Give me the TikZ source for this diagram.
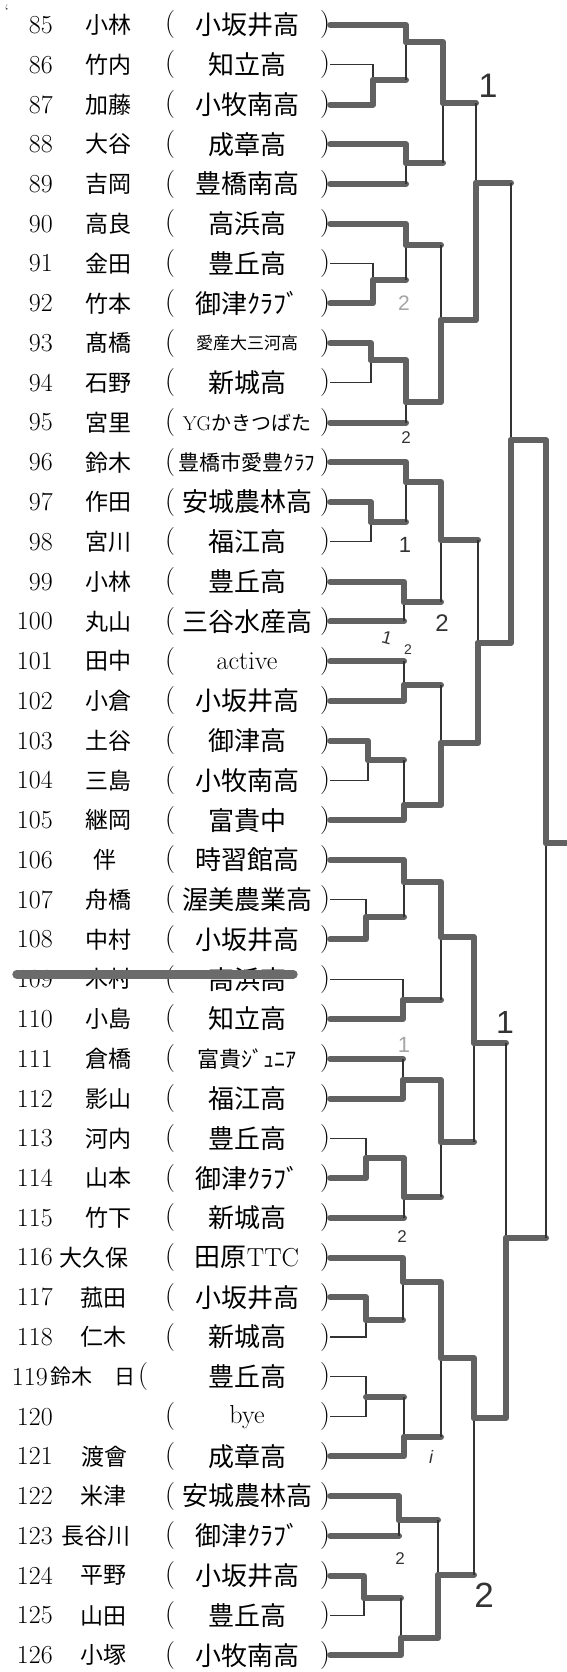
\documentclass[tikz,border=0pt]{standalone}
\usepackage{fontspec}
\usepackage{tikz}
\newfontfamily\jp{Noto Sans CJK JP}
\newfontfamily\hand{Liberation Sans}
\tikzstyle{idx}=[anchor=east,inner sep=0pt,font=\fontsize{26}{26}\selectfont]
\tikzstyle{nm}=[inner sep=0pt,font=\jp\fontsize{23}{23}\selectfont]
\tikzstyle{pr}=[inner sep=0pt,font=\fontsize{28}{28}\selectfont]
\tikzstyle{sch}=[inner sep=0pt,font=\jp\fontsize{26}{26}\selectfont]
\tikzstyle{win}=[line width=6pt,black!62,line cap=round,line join=round]
\tikzstyle{lose}=[line width=1.2pt,black!80]
\tikzstyle{strikeout}=[line width=9pt,black!58,line cap=round]
\tikzstyle{hw}=[inner sep=0pt,font=\hand\fontsize{20}{20}\selectfont,black!80]
% one row of the draw: number, name x, name, school
\newcommand{\entrow}[4]{%
  \node[idx] (num#1) at (53,{25+39.76*(#1-85)}) {#1};
  \node[nm] (nm#1) at (#2,{25+39.76*(#1-85)}) {#3};
  \node[pr] (lp#1) at (170,{25+39.76*(#1-85)}) {(};
  \node[sch] (sc#1) at (247,{25+39.76*(#1-85)}) {#4};
  \node[pr] (e#1) at (325,{25+39.76*(#1-85)}) {)};
}
\newcommand{\beat}[2]{\draw[win] (#1) -| (#2);}
\newcommand{\fell}[2]{\draw[win] (#1) -- (#1 -| #2); \draw[lose] (#1 -| #2) -- (#2);}

\begin{document}
\begin{tikzpicture}[x=1pt,y=-1pt]
        \fill[white] (0,0) rectangle (566,1672);
        \node[hw,font=\fontsize{20}{20}\selectfont] (tick) at (7,12) {`};

        \entrow{85}{108}{小林}{小坂井高}
        \entrow{86}{108}{竹内}{知立高}
        \entrow{87}{108}{加藤}{小牧南高}
        \entrow{88}{108}{大谷}{成章高}
        \entrow{89}{108}{吉岡}{豊橋南高}
        \entrow{90}{108}{高良}{高浜高}
        \entrow{91}{108}{金田}{豊丘高}
        \entrow{92}{108}{竹本}{御津ｸﾗﾌﾞ}
        \entrow{93}{108}{髙橋}{\fontsize{17}{17}\selectfont 愛産大三河高}
        \entrow{94}{108}{石野}{新城高}
        \entrow{95}{108}{宮里}{\fontsize{20}{20}\selectfont{\rmfamily YG}かきつばた}
        \entrow{96}{108}{鈴木}{\fontsize{21}{21}\selectfont 豊橋市愛豊ｸﾗﾌ}
        \entrow{97}{108}{作田}{安城農林高}
        \entrow{98}{108}{宮川}{福江高}
        \entrow{99}{108}{小林}{豊丘高}
        \entrow{100}{108}{丸山}{三谷水産高}
        \entrow{101}{108}{田中}{{\rmfamily active}}
        \entrow{102}{108}{小倉}{小坂井高}
        \entrow{103}{108}{土谷}{御津高}
        \entrow{104}{108}{三島}{小牧南高}
        \entrow{105}{108}{継岡}{富貴中}
        \entrow{106}{105}{伴}{時習館高}
        \entrow{107}{108}{舟橋}{渥美農業高}
        \entrow{108}{108}{中村}{小坂井高}
        \entrow{109}{108}{木村}{高浜高}
        \entrow{110}{108}{小島}{知立高}
        \entrow{111}{108}{倉橋}{\fontsize{22}{22}\selectfont 富貴ｼﾞｭﾆｱ}
        \entrow{112}{108}{影山}{福江高}
        \entrow{113}{108}{河内}{豊丘高}
        \entrow{114}{108}{山本}{御津ｸﾗﾌﾞ}
        \entrow{115}{108}{竹下}{新城高}
        \entrow{116}{94}{大久保}{田原{\rmfamily TTC}}
        \entrow{117}{103}{菰田}{小坂井高}
        \entrow{118}{103}{仁木}{新城高}
        \node[idx] (num119) at (48,{25+39.76*34}) {119};
        \node[nm,font=\jp\fontsize{21}{21}\selectfont] (nm119) at (71,{25+39.76*34}) {鈴木};
        \node[nm,font=\jp\fontsize{21}{21}\selectfont] (nx119) at (125,{25+39.76*34}) {日};
        \node[pr] (lp119) at (143,{25+39.76*34}) {(};
        \node[sch] (sc119) at (247,{25+39.76*34}) {豊丘高};
        \node[pr] (e119) at (325,{25+39.76*34}) {)};
        \entrow{120}{103}{}{{\rmfamily bye}}
        \entrow{121}{104}{渡會}{成章高}
        \entrow{122}{103}{米津}{安城農林高}
        \entrow{123}{96}{長谷川}{御津ｸﾗﾌﾞ}
        \entrow{124}{103}{平野}{小坂井高}
        \entrow{125}{103}{山田}{豊丘高}
        \entrow{126}{103}{小塚}{小牧南高}

        \draw[strikeout] ([yshift=5pt]num109.west) -- ([xshift=7pt,yshift=5pt]sc109.east);

        % match points, 85-95
        \coordinate (a1) at (373,80);
        \coordinate (a2) at (406,42);
        \coordinate (a3) at (406,163);
        \coordinate (a4) at (443,103);
        \coordinate (a5) at (373,280);
        \coordinate (a6) at (406,245);
        \coordinate (a7) at (371,360);
        \coordinate (a8) at (406,402);
        \coordinate (a9) at (441,320);
        \coordinate (a10) at (476,183);
        % 96-105
        \coordinate (b1) at (371,522);
        \coordinate (b2) at (406,482);
        \coordinate (b3) at (404,602);
        \coordinate (b4) at (441,540);
        \coordinate (b5) at (404,685);
        \coordinate (b6) at (368,760);
        \coordinate (b7) at (404,805);
        \coordinate (b8) at (441,743);
        \coordinate (b9) at (478,643);
        \coordinate (t1) at (511,440);
        % 106-115
        \coordinate (c1) at (366,917);
        \coordinate (c2) at (404,882);
        \coordinate (c3) at (403,1000);
        \coordinate (c4) at (441,937);
        \coordinate (c5) at (403,1080);
        \coordinate (c6) at (366,1158);
        \coordinate (c7) at (404,1197);
        \coordinate (c8) at (441,1142);
        \coordinate (c9) at (474,1043);
        % 116-126
        \coordinate (d1) at (366,1320);
        \coordinate (d2) at (403,1282);
        \coordinate (d3) at (366,1397);
        \coordinate (d4) at (404,1437);
        \coordinate (d5) at (441,1358);
        \coordinate (d6) at (399,1520);
        \coordinate (d7) at (364,1598);
        \coordinate (d8) at (401,1638);
        \coordinate (d9) at (438,1575);
        \coordinate (d10) at (474,1418);
        \coordinate (u1) at (506,1238);
        \coordinate (fin) at (546,843);
        \coordinate (champ) at (566,843);

        \draw[lose] (e86.east) -| (a1); \beat{e87.east}{a1}
        \fell{a1}{a2} \beat{e85.east}{a2}
        \fell{e89.east}{a3} \beat{e88.east}{a3}
        \fell{a3}{a4} \beat{a2}{a4}
        \draw[lose] (e91.east) -| (a5); \beat{e92.east}{a5}
        \fell{a5}{a6} \beat{e90.east}{a6}
        \draw[lose] (e94.east) -| (a7); \beat{e93.east}{a7}
        \fell{e95.east}{a8} \beat{a7}{a8}
        \fell{a6}{a9} \beat{a8}{a9}
        \fell{a4}{a10} \beat{a9}{a10}

        \draw[lose] (e98.east) -| (b1); \beat{e97.east}{b1}
        \fell{b1}{b2} \beat{e96.east}{b2}
        \fell{e100.east}{b3} \beat{e99.east}{b3}
        \fell{b3}{b4} \beat{b2}{b4}
        \fell{e101.east}{b5} \beat{e102.east}{b5}
        \draw[lose] (e104.east) -| (b6); \beat{e103.east}{b6}
        \fell{b6}{b7} \beat{e105.east}{b7}
        \fell{b5}{b8} \beat{b7}{b8}
        \fell{b4}{b9} \beat{b8}{b9}
        \fell{a10}{t1} \beat{b9}{t1}

        \draw[lose] (e107.east) -| (c1); \beat{e108.east}{c1}
        \fell{c1}{c2} \beat{e106.east}{c2}
        \draw[lose] (e109.east) -| (c3); \beat{e110.east}{c3}
        \fell{c3}{c4} \beat{c2}{c4}
        \fell{e111.east}{c5} \beat{e112.east}{c5}
        \draw[lose] (e113.east) -| (c6); \beat{e114.east}{c6}
        \fell{e115.east}{c7} \beat{c6}{c7}
        \fell{c7}{c8} \beat{c5}{c8}
        \fell{c8}{c9} \beat{c4}{c9}

        \draw[lose] (e118.east) -| (d1); \beat{e117.east}{d1}
        \fell{d1}{d2} \beat{e116.east}{d2}
        \draw[lose] (e119.east) -| (d3);
        \draw[lose] (e120.east) -| (d3);
        \fell{d3}{d4} \beat{e121.east}{d4}
        \fell{d4}{d5} \beat{d2}{d5}
        \fell{e123.east}{d6} \beat{e122.east}{d6}
        \draw[lose] (e125.east) -| (d7); \beat{e124.east}{d7}
        \fell{d7}{d8} \beat{e126.east}{d8}
        \fell{d6}{d9} \beat{d8}{d9}
        \fell{d9}{d10} \beat{d5}{d10}
        \fell{c9}{u1} \beat{d10}{u1}

        \fell{u1}{fin} \beat{t1}{fin}
        \draw[win] (fin) -- (champ);

        % pencilled scores
        \node[hw,font=\hand\fontsize{34}{34}\selectfont] (s1) at (488,86) {1};
        \node[hw,black!35,font=\hand\fontsize{21}{21}\selectfont] (s2) at (404,303) {2};
        \node[hw,font=\hand\fontsize{17}{17}\selectfont] (s3) at (406,438) {2};
        \node[hw,font=\hand\fontsize{22}{22}\selectfont] (s4) at (405,545) {1};
        \node[hw,font=\hand\fontsize{24}{24}\selectfont] (s5) at (442,623) {2};
        \node[hw,rotate=-15,font=\hand\fontsize{18}{18}\selectfont] (s6) at (387,638) {1};
        \node[hw,font=\hand\fontsize{14}{14}\selectfont] (s7) at (408,650) {2};
        \node[hw,font=\hand\fontsize{32}{32}\selectfont] (s8) at (505,1022) {1};
        \node[hw,black!35,font=\hand\fontsize{22}{22}\selectfont] (s9) at (404,1045) {1};
        \node[hw,font=\hand\fontsize{17}{17}\selectfont] (s10) at (402,1237) {2};
        \node[hw,font=\hand\itshape\fontsize{18}{18}\selectfont] (s11) at (431,1457) {i};
        \node[hw,font=\hand\fontsize{17}{17}\selectfont] (s12) at (400,1559) {2};
        \node[hw,font=\hand\fontsize{35}{35}\selectfont] (s13) at (484,1595) {2};

        \pgfresetboundingbox
        \useasboundingbox (0,0) rectangle (566,1672);
\end{tikzpicture}
\end{document}
